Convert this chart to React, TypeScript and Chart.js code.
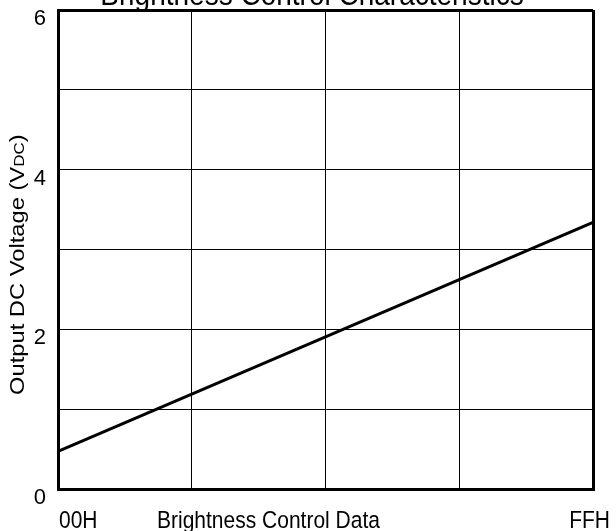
import React, { useEffect, useRef } from 'react';
import { Chart, registerables } from 'chart.js';

Chart.register(...registerables);

// ---- data ----
const chartTitle = 'Brightness Control Characteristics';
const xAxisTitle = 'Brightness Control Data';
const yTitleMain = 'Output DC Voltage (V';
const yTitleSub = 'DC';
const yTitleEnd = ')';
const xCodes = [0, 255]; // 00H .. FFH
const xTickLabels = ['00H', 'FFH'];
const outputVoltage = [0.47, 3.34];
const xGridValues = [0, 63.75, 127.5, 191.25, 255];
const yMin = 0;
const yMax = 6;
const yStep = 1;
const yLabelValues = [0, 2, 4, 6];

const FONT = "'Liberation Sans', Arial, sans-serif";
const STRETCH = 1.13;

function stretchedText(ctx: any, text: string, x: number, y: number, align: string, size: number) {
  ctx.save();
  ctx.translate(x, y);
  ctx.scale(1, STRETCH);
  ctx.font = `${size}px ${FONT}`;
  ctx.textAlign = align;
  ctx.textBaseline = 'alphabetic';
  ctx.fillText(text, 0, 0);
  ctx.restore();
}

const textPlugin = {
  id: 'textPlugin',
  afterDraw(chart: any) {
    const { ctx, chartArea } = chart;
    ctx.save();
    ctx.fillStyle = '#000';
    // main title (partly cut off at the top)
    stretchedText(ctx, chartTitle, 312, 5, 'center', 28);

    // x labels
    stretchedText(ctx, xTickLabels[0], chartArea.left + 1, 528, 'left', 21);
    stretchedText(ctx, xTickLabels[1], chartArea.right + 17, 528, 'right', 21);
    stretchedText(ctx, xAxisTitle, 157, 528, 'left', 21);

    // y title (rotated)
    ctx.translate(18, 395);
    ctx.rotate(-Math.PI / 2);
    ctx.scale(STRETCH, 1);
    ctx.textAlign = 'left';
    ctx.textBaseline = 'middle';
    ctx.font = `21px ${FONT}`;
    const w1 = ctx.measureText(yTitleMain).width;
    ctx.fillText(yTitleMain, 0, 0);
    ctx.font = `15px ${FONT}`;
    const w2 = ctx.measureText(yTitleSub).width;
    ctx.fillText(yTitleSub, w1, 2);
    ctx.font = `21px ${FONT}`;
    ctx.fillText(yTitleEnd, w1 + w2, 0);
    ctx.restore();
  },
};

export default function App() {
  const ref = useRef<HTMLCanvasElement | null>(null);
  useEffect(() => {
    if (!ref.current) return;
    const chart = new Chart(ref.current, {
      type: 'line',
      data: {
        datasets: [
          {
            data: xCodes.map((x, i) => ({ x, y: outputVoltage[i] })),
            borderColor: '#000',
            borderWidth: 3,
            pointRadius: 0,
            fill: false,
          },
        ],
      },
      options: {
        animation: false,
        responsive: false,
        maintainAspectRatio: false,
        layout: { padding: { top: 10, right: 23, left: 0, bottom: 0 } },
        plugins: { legend: { display: false }, tooltip: { enabled: false }, title: { display: false } },
        scales: {
          x: {
            type: 'linear',
            min: xCodes[0],
            max: xCodes[xCodes.length - 1],
            afterBuildTicks: (scale: any) => {
              scale.ticks = xGridValues.map((v) => ({ value: v }));
            },
            afterFit: (scale: any) => {
              scale.height = 42;
              scale.paddingLeft = 0;
              scale.paddingRight = 0;
            },
            ticks: { display: false },
            grid: {
              color: '#000',
              drawTicks: false,
              lineWidth: (c: any) =>
                c.tick && (c.tick.value === xCodes[0] || c.tick.value === xCodes[xCodes.length - 1]) ? 3 : 1,
            },
            border: { display: true, color: '#000', width: 3 },
          },
          y: {
            type: 'linear',
            min: yMin,
            max: yMax,
            afterFit: (scale: any) => {
              scale.width = 58;
              scale.paddingTop = 0;
              scale.paddingBottom = 0;
            },
            ticks: {
              stepSize: yStep,
              color: '#000',
              font: { family: FONT, size: 22 },
              padding: 12,
              labelOffset: 9,
              callback: (v: any) => (yLabelValues.includes(Number(v)) ? String(v) : ''),
            },
            grid: {
              color: '#000',
              drawTicks: false,
              lineWidth: (c: any) =>
                c.tick && (c.tick.value === yMin || c.tick.value === yMax) ? 3 : 1,
            },
            border: { display: true, color: '#000', width: 3 },
          },
        },
      },
      plugins: [textPlugin],
    } as any);
    return () => chart.destroy();
  }, []);
  return (
    <div style={{ position: 'fixed', left: 0, top: 0, width: 616, height: 531, background: '#fff' }}>
      <canvas ref={ref} width={616} height={531} style={{ width: 616, height: 531, display: 'block' }} />
    </div>
  );
}
